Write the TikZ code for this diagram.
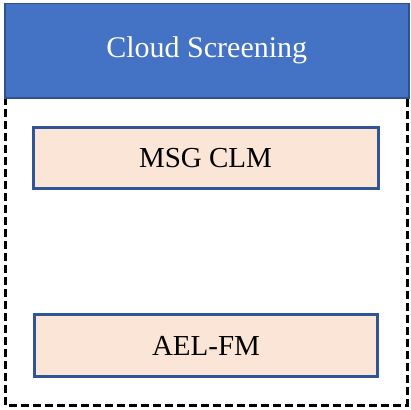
\documentclass[tikz,border=0pt]{standalone}
\usepackage{fontspec}
\setmainfont{Liberation Serif}
\definecolor{hdrfill}{HTML}{4472C4}
\definecolor{hdrline}{HTML}{2F528F}
\definecolor{boxfill}{HTML}{FBE5D6}
\definecolor{boxline}{HTML}{2F5597}
\begin{document}
\begin{tikzpicture}[x=1pt,y=-1pt,
  header/.style={draw=hdrline,fill=hdrfill,line width=1.5pt,text=white,font=\fontsize{30}{34}\selectfont},
  frame/.style={draw=black,line width=3pt,dash pattern=on 8pt off 4pt},
  item/.style={draw=boxline,fill=boxfill,line width=3pt,font=\fontsize{29}{33}\selectfont}]
\useasboundingbox (0,0) rectangle (411,409);
\draw[frame] (5,97) rectangle (407,405);
\node[header,minimum width=404pt,minimum height=94pt,anchor=north west,inner sep=0pt] (hdr) at (4,3) {Cloud Screening};
\node[item,minimum width=345pt,minimum height=61pt,inner sep=0pt] (msg) at (205.5,158) {MSG CLM};
\node[item,minimum width=343pt,minimum height=62pt,inner sep=0pt] (ael) at (206,345.5) {AEL-FM};
\end{tikzpicture}
\end{document}
